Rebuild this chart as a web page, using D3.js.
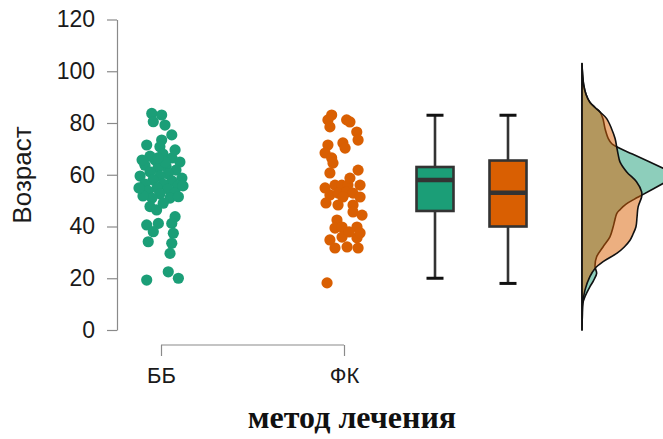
<!DOCTYPE html>
<html>
<head>
<meta charset="utf-8">
<script src="https://cdn.jsdelivr.net/npm/d3@7"></script>
<style>
  html, body { margin: 0; padding: 0; background: #fff; }
  svg { display: block; }
</style>
</head>
<body>
<svg id="chart" width="663" height="439"></svg>
<script>
// ---- data ----
const groups = ["ББ", "ФК"];
const groupColors = ["#1b9e77", "#d95f02"];
const yTicks = [0, 20, 40, 60, 80, 100, 120];

// ages per patient, with horizontal jitter (-1..1) for the strip plot
const ageBB = [83.7, 83.1, 80.5, 79.2, 75.4, 73.4, 71.5, 70.8, 68.0, 66.5, 65.7, 64.9, 63.7, 63.3,
  62.6, 61.8, 61.1, 60.3, 59.5, 59.5, 58.7, 58.0, 57.6, 56.4, 56.4, 55.7, 54.9, 54.5, 53.7, 52.9,
  52.6, 51.0, 51.0, 51.8, 64.9, 67.2, 51.5, 47.7, 46.4, 49.0, 43.8, 41.2, 40.6, 41.2, 38.0, 37.4,
  33.5, 34.1, 29.6, 22.5, 20.0, 19.3, 65.7, 69.6, 66.5, 55.7, 54.9];
const jitterBB = [-0.42, 0.03, -0.35, 0.18, 0.49, 0.03, -0.65, -0.05, 0.09, 0.5, -0.27, 0.86, -0.73, 0.23,
  -0.14, 0.68, -0.5, 0.32, -0.95, -0.05, 0.95, -0.36, 0.5, -0.73, 0.09, 0.77, -0.18, 0.32, -0.59, 0.64,
  -0.05, -0.41, 0.41, -0.82, 0.18, -0.5, 0.79, -0.5, -0.2, 0.1, 0.64, 0.49, -0.65, -0.12, -0.35, 0.56,
  0.49, -0.58, 0.41, 0.33, 0.79, -0.65, -0.86, 0.64, -0.14, 1.0, -1.0];

const ageFK = [83.1, 81.2, 78.5, 81.2, 80.4, 76.5, 73.4, 72.3, 70.3, 71.5, 68.4, 66.5, 64.5, 60.7,
  61.8, 56.0, 56.0, 56.0, 56.0, 52.2, 52.9, 53.3, 52.9, 49.1, 51.4, 51.4, 48.3, 45.6, 42.5, 39.8,
  39.4, 39.8, 34.8, 35.9, 35.6, 31.7, 32.1, 31.7, 18.2, 54.9, 58.7, 48.3, 44.4, 37.5, 37.9];
const jitterFK = [-0.56, -0.73, -0.64, 0.12, 0.27, 0.58, 0.64, -0.05, 0.05, -0.73, -0.86, -0.56, -0.5, -0.64,
  0.64, -0.41, -0.1, 0.18, 0.73, -0.64, -0.27, 0.12, 0.41, -0.82, -0.05, 0.73, 0.41, 0.41, -0.32, 0.59,
  -0.41, -0.09, -0.64, -0.09, 0.59, -0.41, 0.14, 0.64, -0.77, -0.86, 0.27, -0.27, 0.82, 0.73, 0.23];

// box summaries: [min, q1, median, q3, max]
const boxBB = [20, 46, 58, 63, 83];
const boxFK = [18, 40, 53, 65.5, 83];

// smoothed density of age: [age, density]
const densBB = [[103, 0], [99, 0.0002], [95, 0.0006], [91, 0.0015], [88, 0.0029], [86, 0.0048],
  [84.3, 0.0066], [81.7, 0.0077], [77.8, 0.0085], [74, 0.0097], [72, 0.0110], [70.8, 0.0128],
  [68, 0.0186], [62.5, 0.0299], [59.8, 0.0354], [57, 0.0305], [54.5, 0.0262], [52.3, 0.0224],
  [50.5, 0.0192], [48.3, 0.0158], [46.5, 0.0140],
  [45, 0.0128], [42, 0.0120], [39.9, 0.0115], [36, 0.0103], [32.2, 0.0078], [28.3, 0.0054],
  [24.5, 0.0048], [21.9, 0.0054], [19, 0.0042], [16.7, 0.0029], [12.9, 0.0011], [10.3, 0.0003],
  [5, 0.0001], [0, 0]];
const densFK = [[103, 0], [99, 0.0002], [94.6, 0.0006], [91, 0.0015], [88, 0.0029], [86, 0.0048],
  [84.3, 0.0066], [81.7, 0.0091], [77.8, 0.0109], [74, 0.0122], [70.8, 0.0128], [68, 0.0133],
  [65, 0.0140], [61.1, 0.0165], [57.3, 0.0201], [53.4, 0.0220], [51.5, 0.0220], [47.6, 0.0207],
  [43.7, 0.0203], [39.9, 0.0199], [37, 0.0188], [34.7, 0.0177], [32, 0.0155], [29.6, 0.0128],
  [26.4, 0.0078], [23.8, 0.0048], [20.6, 0.0029], [15.4, 0.0011], [10.4, 0.0003], [5, 0.0001], [0, 0]];

const series = [
  { name: groups[0], ages: ageBB, jitter: jitterBB, box: boxBB, dens: densBB, color: groupColors[0] },
  { name: groups[1], ages: ageFK, jitter: jitterFK, box: boxFK, dens: densFK, color: groupColors[1] }
];

// ---- layout ----
const svg = d3.select("#chart");
const y = d3.scaleLinear().domain([0, 120]).range([330, 19.5]);
const xStrip = d3.scalePoint().domain(groups).range([161, 344]);
const xBox = d3.scalePoint().domain(groups).range([435, 508]);
const xDens = d3.scaleLinear().domain([0, 0.0354]).range([582, 678]);
const jitterWidth = 22;
const boxWidth = 37;
const capWidth = 17;
const ink = "#333333";

// y axis
const yAxis = svg.append("g").attr("transform", "translate(117,0)")
  .call(d3.axisLeft(y).tickValues(yTicks).tickSize(10).tickPadding(12).tickSizeOuter(0));
yAxis.select(".domain").attr("stroke", "#8a8a8a").attr("stroke-width", 1.2);
yAxis.selectAll(".tick line").attr("stroke", "#8a8a8a").attr("stroke-width", 1.2);
yAxis.selectAll(".tick text").attr("font-family", "Liberation Sans, Arial, sans-serif")
  .attr("font-size", 23).attr("fill", "#1a1a1a");

// x axis as a bracket with downward ticks
const xAxis = svg.append("g").attr("transform", "translate(0,345)")
  .call(d3.axisBottom(xStrip).tickSize(11).tickSizeOuter(0));
xAxis.select(".domain").attr("stroke", "#8a8a8a").attr("stroke-width", 1.2)
  .attr("d", `M${xStrip(groups[0])},0H${xStrip(groups[1])}`);
xAxis.selectAll(".tick line").attr("stroke", "#8a8a8a").attr("stroke-width", 1.2);
xAxis.selectAll(".tick text").attr("y", 38).attr("dy", 0)
  .attr("font-family", "Liberation Sans, Arial, sans-serif")
  .attr("font-size", 22).attr("fill", "#1a1a1a");

// axis titles
svg.append("text")
  .attr("transform", "translate(31,175) rotate(-90)")
  .attr("text-anchor", "middle")
  .attr("font-family", "Liberation Sans, Arial, sans-serif")
  .attr("font-size", 26).attr("fill", "#1a1a1a")
  .text("Возраст");
svg.append("text")
  .attr("x", 352).attr("y", 428)
  .attr("text-anchor", "middle")
  .attr("font-family", "Liberation Serif, Times New Roman, serif")
  .attr("font-weight", "bold")
  .attr("font-size", 32).attr("fill", "#111")
  .text("метод лечения");

// strip points
series.forEach(s => {
  svg.append("g").selectAll("circle")
    .data(s.ages)
    .join("circle")
    .attr("cx", (d, i) => xStrip(s.name) + s.jitter[i] * jitterWidth)
    .attr("cy", d => y(d))
    .attr("r", 5.6)
    .attr("fill", s.color);
});

// box plots
series.forEach(s => {
  const cx = xBox(s.name);
  const [mn, q1, med, q3, mx] = s.box;
  const g = svg.append("g");
  g.append("line").attr("x1", cx).attr("x2", cx).attr("y1", y(mx)).attr("y2", y(q3))
    .attr("stroke", ink).attr("stroke-width", 2.6);
  g.append("line").attr("x1", cx).attr("x2", cx).attr("y1", y(q1)).attr("y2", y(mn))
    .attr("stroke", ink).attr("stroke-width", 2.6);
  [mn, mx].forEach(v => {
    g.append("line").attr("x1", cx - capWidth / 2).attr("x2", cx + capWidth / 2)
      .attr("y1", y(v)).attr("y2", y(v))
      .attr("stroke", "#111").attr("stroke-width", 3);
  });
  g.append("rect")
    .attr("x", cx - boxWidth / 2).attr("width", boxWidth)
    .attr("y", y(q3)).attr("height", y(q1) - y(q3))
    .attr("fill", s.color).attr("stroke", ink).attr("stroke-width", 2.6);
  g.append("line").attr("x1", cx - boxWidth / 2).attr("x2", cx + boxWidth / 2)
    .attr("y1", y(med)).attr("y2", y(med))
    .attr("stroke", ink).attr("stroke-width", 4.5);
});

// half-violin densities
const area = d3.area()
  .y(d => y(d[0]))
  .x0(xDens(0))
  .x1(d => xDens(d[1]))
  .curve(d3.curveCatmullRom.alpha(0.5));
series.forEach(s => {
  svg.append("path")
    .datum(s.dens)
    .attr("d", area)
    .attr("fill", s.color)
    .attr("fill-opacity", 0.5)
    .attr("stroke", "#111")
    .attr("stroke-width", 1.6)
    .attr("stroke-linejoin", "round");
});
</script>
</body>
</html>
